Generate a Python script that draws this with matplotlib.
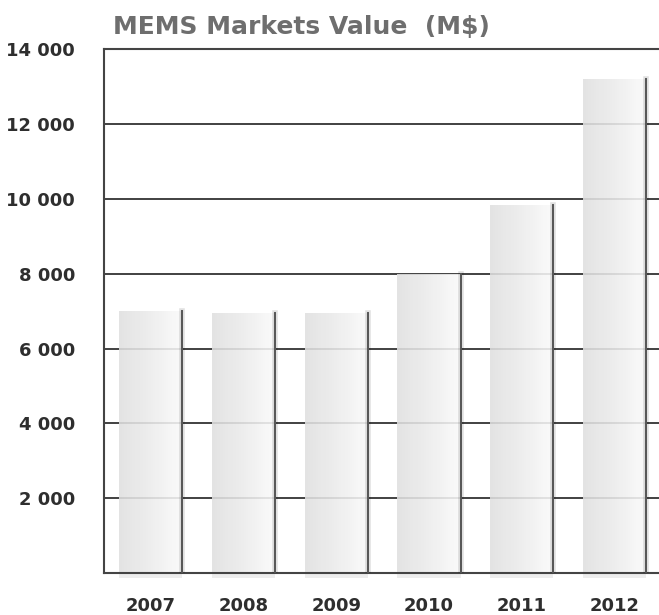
import numpy as np
import matplotlib
matplotlib.use("Agg")
import matplotlib.pyplot as plt
from matplotlib.colors import LinearSegmentedColormap

years = ["2007", "2008", "2009", "2010", "2011", "2012"]
values = [7000, 6950, 6950, 8000, 9850, 13200]
yticks = [2000, 4000, 6000, 8000, 10000, 12000, 14000]
ytick_labels = ["2 000", "4 000", "6 000", "8 000", "10 000", "12 000", "14 000"]
title = "MEMS Markets Value  (M$)"

fig = plt.figure(figsize=(6.59, 6.15), dpi=100)
ax = fig.add_axes([0.158, 0.068, 0.845, 0.852])

x = np.arange(len(years))
bars = ax.bar(x, values, width=0.68, color="none", zorder=2)

# light grey -> white gradient inside each bar, with a dark right edge
grad = np.linspace(0, 1, 256).reshape(1, -1)
cmap = LinearSegmentedColormap.from_list("bar", ["#e0e0e0", "#ececec", "#fbfbfb"])
for b in bars:
    x0, w, h = b.get_x(), b.get_width(), b.get_height()
    im = ax.imshow(grad, cmap=cmap, extent=[x0, x0 + w, 0, h],
                   aspect="auto", zorder=2, alpha=0.88)
    im.set_clip_path(b)
    ax.plot([x0 + w, x0 + w], [0, h], color="#000000", lw=4, alpha=0.12, zorder=3)
    ax.plot([x0 + w, x0 + w], [0, h], color="#555555", lw=1.4, zorder=3)
    # soft shadow under the bar
    ax.fill_between([x0, x0 + w], [-130, -130], [0, 0], color="#000000",
                    alpha=0.07, lw=0, clip_on=False, zorder=1)

ax.set_xlim(-0.5, len(years) - 0.5)
ax.set_ylim(0, 14000)

ax.set_yticks(yticks, ytick_labels)
ax.set_xticks(x, years)
ax.tick_params(axis="both", length=0, labelsize=13, labelcolor="#2e2e2e")
ax.tick_params(axis="y", pad=21)
ax.tick_params(axis="x", pad=17)
for lab in ax.get_xticklabels() + ax.get_yticklabels():
    lab.set_fontweight("bold")

ax.yaxis.grid(True, color="#333333", lw=1.3)
ax.set_axisbelow(True)

for side in ["left", "bottom", "top"]:
    ax.spines[side].set_color("#444444")
    ax.spines[side].set_linewidth(1.5)
ax.spines["right"].set_visible(False)

fig.text(0.457, 0.956, title, ha="center", va="center", fontsize=18,
         fontweight="bold", color="#6e6e6e")

fig.savefig("out.png", dpi=100)
